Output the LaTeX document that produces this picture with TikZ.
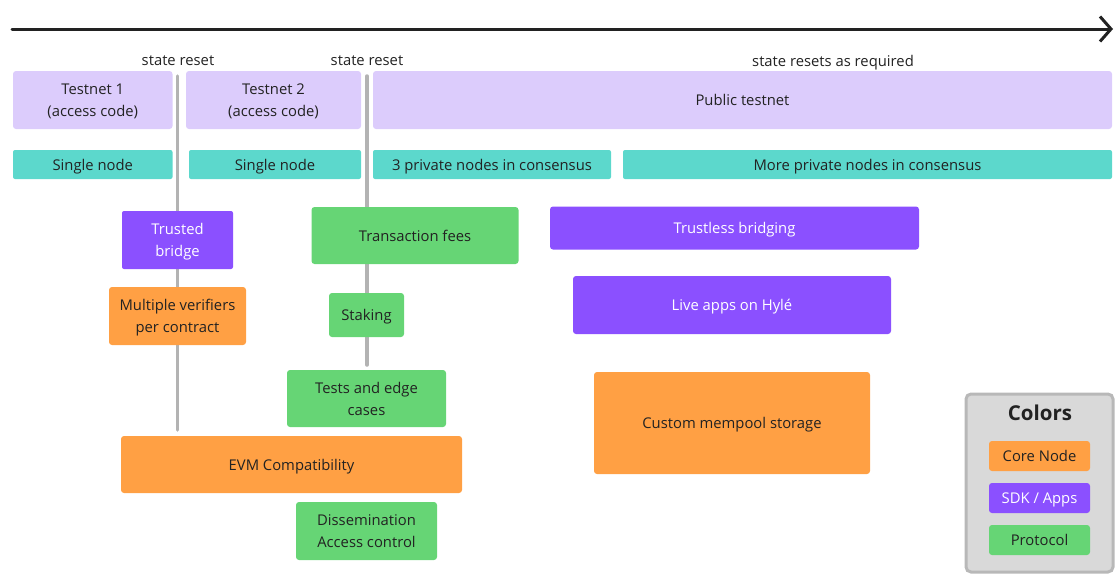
\documentclass[tikz,border=0pt]{standalone}
\usepackage{fontspec}
\setmainfont{Open Sans}
\usetikzlibrary{arrows.meta}
\definecolor{lav}{HTML}{DCCCFC}
\definecolor{teal}{HTML}{5CD8CC}
\definecolor{purp}{HTML}{8B50FF}
\definecolor{grn}{HTML}{66D575}
\definecolor{orng}{HTML}{FFA044}
\definecolor{resetgray}{HTML}{B3B3B3}
\definecolor{legfill}{HTML}{D9D9D9}
\definecolor{legdraw}{HTML}{B8B8B8}
\definecolor{txt}{HTML}{222222}
\begin{document}
\begin{tikzpicture}[x=1pt,y=-1pt,
  font=\fontsize{14.8}{22}\selectfont,
  box/.style={inner sep=0pt, align=center, rounded corners=3pt, text=txt, text depth=0pt},
  lavbox/.style={box, fill=lav},
  tealbox/.style={box, fill=teal, rounded corners=2pt},
  purpbox/.style={box, fill=purp, text=white},
  grnbox/.style={box, fill=grn},
  orngbox/.style={box, fill=orng},
  resetline/.style={draw=resetgray, line width=3.5pt, line cap=round},
  timeline/.style={draw=txt, line width=3pt, line cap=round, -{Straight Barb[length=11pt,width=25pt,line width=3pt]}},
  lbl/.style={inner sep=0pt, text=txt, text depth=0pt},
]
\path[use as bounding box] (0,0) rectangle (1120,582);

% timeline arrow
\coordinate (ax0) at (12,29);
\coordinate (ax1) at (1113,29);
\draw[timeline] (ax0) -- (ax1);

% labels
\node[lbl] (sr1) at (178,61) {state reset};
\node[lbl] (sr2) at (367,61) {state reset};
\node[lbl] (sr3) at (833,61) {state resets as required};

% reset lines
\coordinate (r1top) at (177.5,76);
\coordinate (r1bot) at (177.5,430);
\coordinate (r2top) at (367,76);
\coordinate (r2bot) at (367,365);
\draw[resetline] (r1top) -- (r1bot);
\draw[resetline] (r2top) -- (r2bot);

% testnets
\node[lavbox, minimum width=159.5pt, minimum height=58pt] (t1) at (92.75,100) {Testnet 1\\(access code)};
\node[lavbox, minimum width=175pt, minimum height=58pt] (t2) at (273.5,100) {Testnet 2\\(access code)};
\node[lavbox, minimum width=739pt, minimum height=58pt] (pt) at (742.5,100) {Public testnet};

% nodes row
\node[tealbox, minimum width=159.5pt, minimum height=29pt] (sn1) at (92.75,164.5) {Single node};
\node[tealbox, minimum width=172pt, minimum height=29pt] (sn2) at (275,164.5) {Single node};
\node[tealbox, minimum width=238pt, minimum height=29pt] (pn3) at (492,164.5) {3 private nodes in consensus};
\node[tealbox, minimum width=489pt, minimum height=29pt] (pnm) at (867.5,164.5) {More private nodes in consensus};

% features
\node[purpbox, rounded corners=2pt, minimum width=111pt, minimum height=58pt] (tb) at (177.5,240) {Trusted\\bridge};
\node[orngbox, minimum width=137pt, minimum height=58pt] (mv) at (177.5,316) {Multiple verifiers\\per contract};
\node[grnbox, minimum width=207pt, minimum height=57pt] (tf) at (415,235.5) {Transaction fees};
\node[grnbox, minimum width=75pt, minimum height=44pt] (st) at (366.5,315) {Staking};
\node[grnbox, minimum width=159pt, minimum height=57pt] (te) at (366.5,398.5) {Tests and edge\\cases};
\node[orngbox, minimum width=341pt, minimum height=57pt] (evm) at (291.5,464.5) {EVM Compatibility};
\node[grnbox, minimum width=141pt, minimum height=58pt] (dis) at (366.5,531) {Dissemination\\Access control};
\node[purpbox, minimum width=369pt, minimum height=43pt] (tlb) at (734.5,228) {Trustless bridging};
\node[purpbox, minimum width=318pt, minimum height=58pt] (la) at (732,305) {Live apps on Hylé};
\node[orngbox, minimum width=276pt, minimum height=102pt] (cm) at (732,423) {Custom mempool storage};

% legend
\node[draw=legdraw, line width=3pt, fill=legfill, rounded corners=5pt, minimum width=147pt, minimum height=178pt, inner sep=0pt] (leg) at (1039.5,483) {};
\node[lbl, font=\bfseries\fontsize{20.5}{24}\selectfont] (legt) at (1040,413) {Colors};
\node[orngbox, minimum width=101pt, minimum height=30pt] (lcore) at (1039.5,456) {Core Node};
\node[purpbox, minimum width=101pt, minimum height=30pt] (lsdk) at (1039.5,498) {SDK / Apps};
\node[grnbox, minimum width=101pt, minimum height=30pt] (lprot) at (1039.5,540) {Protocol};
\end{tikzpicture}
\end{document}
